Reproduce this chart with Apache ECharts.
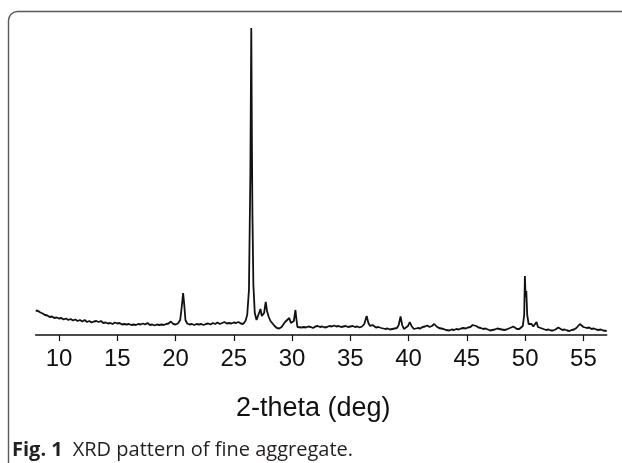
<!DOCTYPE html>
<html>
<head>
<meta charset="utf-8">
<script src="https://cdn.jsdelivr.net/npm/echarts@6/dist/echarts.min.js"></script>
<style>
html,body{margin:0;padding:0;background:#fff;}
#chart{width:622px;height:463px;}
</style>
</head>
<body>
<div id="chart"></div>
<script>
// [2-theta (deg), intensity (a.u.)]
const lowAngle = [
  [8.0,24.5],[8.1,23.5],[8.2,24],[8.3,22],[8.4,22.5],[8.5,21],[8.6,21.5],[8.8,20],[9.0,19.5],[9.2,18],
  [9.4,18.5],[9.6,17],[9.8,17.5],[10.0,16.5],[10.2,17],[10.4,15.5],[10.6,16.5],[10.8,15],[11.0,16],[11.2,14.5],
  [11.4,15.5],[11.6,14],[11.8,15],[12.0,13.5],[12.2,15],[12.4,13],[12.6,14],[12.8,12.5],[13.0,13.5],[13.2,14],
  [13.4,13],[13.6,14],[13.8,12],[14.0,12.5],[14.2,11.5],[14.4,12],[14.6,11],[14.8,12.5],[15.0,11.5],[15.2,12],
  [15.4,10.5],[15.6,11],[15.8,10.5],[16.0,11],[16.2,10],[16.4,10.5],[16.6,10],[16.8,11],[17.0,10.5],[17.2,11.5],
  [17.4,10.5],[17.6,12],[17.8,10],[18.0,10.5],[18.2,9.5],[18.4,10.5],[18.6,10],[18.8,10.5],[19.0,10],[19.2,11],
  [19.4,11.5],[19.6,13.5],[19.8,11],[20.0,10.5],[20.2,11.5],[20.4,15],[20.55,30],[20.65,42],[20.75,30],[20.85,15],
  [21.0,11.5],[21.2,10.5],[21.4,11],[21.6,10],[21.8,11],[22.0,10.5],[22.2,11],[22.4,10],[22.6,11],[22.8,11.5],
  [23.0,10.5],[23.2,12],[23.4,11],[23.6,12.5],[23.8,11],[24.0,12],[24.2,13],[24.4,11.5],[24.6,12],[24.8,11.5],
  [25.0,12.5],[25.2,12],[25.4,13],[25.6,11.5],[25.8,11]
];
const quartzMain = [
  [26.0,14],[26.15,20],[26.3,45],[26.42,160],[26.5,307],[26.56,180],[26.6,120],[26.68,50],[26.8,22],[26.95,15],
  [27.1,16],[27.29,26],[27.4,19],[27.5,17],[27.6,22],[27.74,33],[27.85,24],[28.0,18],[28.15,14],[28.3,12],
  [28.5,9],[28.7,7],[28.9,6.5],[29.1,8],[29.25,10],[29.4,13],[29.55,11],[29.76,17],[29.9,12],[30.0,11],
  [30.15,14],[30.29,25],[30.38,15],[30.46,8]
];
const midAngle = [
  [30.6,8.5],[30.8,7.5],[31.0,8],[31.2,7.5],[31.4,8.5],[31.6,8],[31.8,7],[32.0,8.5],[32.2,9],[32.4,8],
  [32.6,8.5],[32.8,7.5],[33.0,8],[33.2,9],[33.4,8.5],[33.6,9.5],[33.8,8.5],[34.0,9],[34.2,8],[34.4,8.5],
  [34.6,9],[34.8,8],[35.0,8.5],[35.2,9],[35.4,8],[35.6,8.5],[35.8,7.5],[36.0,8.5],[36.2,11],[36.4,19],
  [36.55,12],[36.7,9],[36.9,10],[37.05,10.5],[37.2,7.5],[37.4,8],[37.5,9.5],[37.65,7],[37.8,6.5],[38.0,6],
  [38.2,6.5],[38.4,5.5],[38.6,6],[38.8,6.5],[39.0,7],[39.15,10],[39.31,18.5],[39.45,10],[39.6,6],[39.75,6.5],
  [39.95,9],[40.1,13],[40.25,9],[40.45,6],[40.6,6.5],[40.8,7],[41.0,6.5],[41.2,8],[41.4,8.5],[41.6,9.5],
  [41.8,8],[42.0,9],[42.2,11],[42.4,8.5],[42.6,7],[42.8,6.5],[43.0,6],[43.2,5],[43.5,4.5],[43.7,5.5],
  [43.9,5],[44.1,6],[44.3,5.5],[44.5,6.5],[44.7,7],[44.9,6.5],[45.1,7.5],[45.3,8],[45.5,10],[45.65,12],
  [45.8,9],[46.0,7.5],[46.2,7],[46.4,6],[46.6,6.5],[46.8,5.5],[47.0,4.5],[47.2,5],[47.4,5.5],[47.6,6.5],
  [47.8,6],[48.0,5.5],[48.2,5],[48.4,5.5],[48.6,6.5],[48.8,7.5],[48.98,8.5],[49.15,7],[49.3,6],[49.5,6]
];
const highAngle = [
  [49.65,7],[49.8,9],[49.92,20],[49.98,59],[50.04,38],[50.1,44],[50.18,20],[50.3,11],[50.45,9],[50.55,11],
  [50.7,8.5],[50.85,9],[50.98,13],[51.1,8],[51.26,6],[51.45,6.5],[51.6,5.5],[51.8,5],[52.0,5.5],[52.2,4.5],
  [52.4,4.5],[52.6,5.5],[52.85,7.5],[53.0,6],[53.2,5],[53.4,5.5],[53.6,4.5],[53.8,4],[54.0,5],[54.2,5.5],
  [54.4,7],[54.55,8.5],[54.7,11],[54.85,9],[55.0,8],[55.15,8.5],[55.3,7],[55.5,7.5],[55.7,6],[55.9,6.5],
  [56.1,5.5],[56.3,5],[56.5,5.5],[56.7,4.5],[56.85,4.5],[57.0,4]
];
const tickValues = [10, 15, 20, 25, 30, 35, 40, 45, 50, 55];
const axisTitle = '2-theta (deg)';
const captionLabel = 'Fig. 1';
const captionText = 'XRD pattern of fine aggregate.';

const pattern = lowAngle.concat(quartzMain, midAngle, highAngle);

const chart = echarts.init(document.getElementById('chart'), null, {renderer: 'canvas'});
chart.setOption({
  animation: false,
  backgroundColor: '#ffffff',
  grid: {left: 35.7, right: 15.3, top: 28, bottom: 128, containLabel: false},
  xAxis: {
    type: 'value',
    min: 8,
    max: 57,
    name: axisTitle,
    nameLocation: 'middle',
    nameGap: 60,
    nameTextStyle: {fontFamily: 'Liberation Sans', fontSize: 27, color: '#111', padding: [0, 16, 0, 0]},
    axisLine: {show: true, onZero: false, lineStyle: {color: '#111', width: 1.5}},
    axisTick: {show: true, customValues: tickValues, length: 6, lineStyle: {color: '#111', width: 1.2}},
    axisLabel: {show: true, customValues: tickValues, margin: 12, fontFamily: 'Liberation Sans', fontSize: 24, color: '#111'},
    splitLine: {show: false}
  },
  yAxis: {
    type: 'value',
    min: 0,
    max: 307,
    show: false
  },
  series: [{
    type: 'line',
    data: pattern,
    symbol: 'none',
    smooth: false,
    lineStyle: {color: '#111', width: 1.8},
    z: 3
  }],
  graphic: [
    {
      type: 'rect',
      shape: {x: 8.5, y: 11.5, width: 800, height: 600, r: [9, 0, 0, 0]},
      style: {fill: 'none', stroke: '#5a5a5a', lineWidth: 1.4},
      silent: true
    },
    {
      type: 'text',
      left: 12,
      top: 440,
      style: {
        text: '{b|' + captionLabel + '}{r|' + captionText + '}',
        rich: {
          b: {fontFamily: 'Open Sans', fontWeight: 'bold', fontSize: 20, fill: '#231f20'},
          r: {fontFamily: 'Open Sans', fontSize: 20, fill: '#231f20', padding: [0, 0, 0, 10]}
        }
      }
    }
  ]
});
</script>
</body>
</html>
